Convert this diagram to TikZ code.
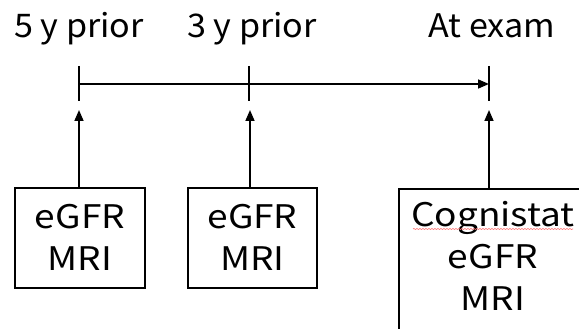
\documentclass[tikz,border=0pt]{standalone}
\usepackage{fontspec}
\setmainfont{Noto Sans CJK JP}
\newfontfamily\lblfont[FakeStretch=1.05]{Noto Sans CJK JP}
\newfontfamily\boxfont[FakeStretch=1.14]{Noto Sans CJK JP}
\usetikzlibrary{arrows.meta,decorations.pathmorphing}
\begin{document}
\begin{tikzpicture}[x=1pt,y=-1pt,
  lbl/.style={font=\lblfont\fontsize{32.5}{40}\selectfont, inner sep=0pt, anchor=base},
  boxtext/.style={font=\boxfont\fontsize{32.5}{42}\selectfont, align=center, inner sep=0pt},
  boxline/.style={draw=black, line width=1.6pt},
  tickline/.style={line width=1.8pt},
  arr/.style={line width=1.6pt, -{Triangle[length=11pt,width=9pt]}}]
\useasboundingbox (0,0) rectangle (579,329);
\clip (0,0) rectangle (579,329);
% labels
\node[lbl] (l1) at (79,38) {5 y prior};
\node[lbl] (l2) at (252,38) {3 y prior};
\node[lbl] (l3) at (492,38) {At exam};
% timeline ticks
\coordinate (t1a) at (79,66); \coordinate (t1b) at (79,101);
\coordinate (t2a) at (249,66); \coordinate (t2b) at (249,101);
\coordinate (t3a) at (489,66); \coordinate (t3b) at (489,101);
\coordinate (t1) at (79,84); \coordinate (t3) at (489,84);
\draw[tickline] (t1a) -- (t1b);
\draw[tickline] (t2a) -- (t2b);
\draw[tickline] (t3a) -- (t3b);
\draw[arr] (t1) -- (t3);
% boxes
\node[boxline, minimum width=130, minimum height=100, inner sep=0pt] (b1) at (80,238) {};
\node[boxtext] (b1t) at (80,237) {eGFR\\MRI};
\node[boxline, minimum width=129, minimum height=100, inner sep=0pt] (b2) at (252.5,238) {};
\node[boxtext] (b2t) at (252.5,237) {eGFR\\MRI};
\node[boxline, anchor=north west, minimum width=184, minimum height=160, inner sep=0pt] (b3) at (398,188) {};
\node[boxtext] (b3t) at (493,256) {Cognistat\\eGFR\\MRI};
% spell-check underline
\draw[red!55, line width=0.6pt, decorate, decoration={snake, amplitude=0.6pt, segment length=3pt}] (413,229) -- (573,229);
% arrows up
\coordinate (a1) at (79,110); \coordinate (a2) at (250,110); \coordinate (a3) at (489,110);
\draw[arr] (b1.north -| a1) -- (a1);
\draw[arr] (b2.north -| a2) -- (a2);
\draw[arr] (b3.north -| a3) -- (a3);
\end{tikzpicture}
\end{document}
